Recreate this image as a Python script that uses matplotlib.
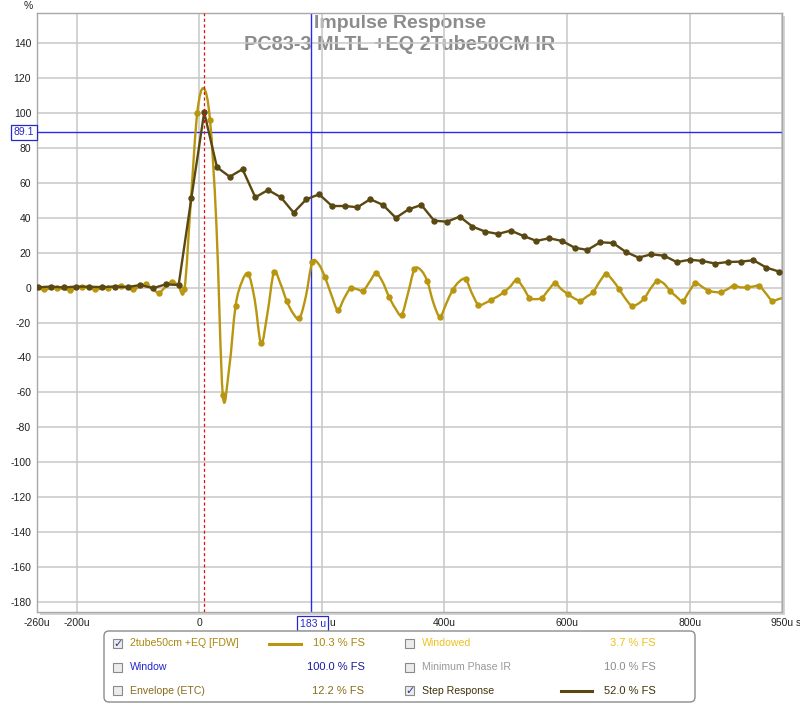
import numpy as np
import matplotlib.pyplot as plt
from matplotlib.patches import Rectangle, FancyBboxPatch, PathPatch
from matplotlib.path import Path
from matplotlib.transforms import blended_transform_factory

plt.rcParams['axes.unicode_minus'] = False

# sample period at 48 kHz, in microseconds
dt_us = 1e6 / 48000.0

# impulse response (gold): value at each sample dot, and curve value half way to the next dot
ir_start_us = -274.0
ir_samples = [0.3, -0.9, 0.0, -1.3, 0.6, -0.9, 0.0, 1.0, -0.9, 1.9, -2.9, 3.4, -0.9,
              100.3, 96.1, -61.5, -10.5, 7.8, -31.9, 8.8, -7.6, -17.6, 14.5, 6.0, -12.8,
              -0.4, -1.7, 8.2, -5.1, -15.6, 10.5, 3.8, -16.6, -1.3, 4.8, -9.9, -7.0,
              -2.6, 4.4, -5.7, -5.7, 2.5, -3.6, -7.4, -2.5, 7.7, -0.6, -10.3, -6.1,
              3.8, -1.7, -7.6, 2.5, -1.7, -2.6, 1.1, 0.2, 1.0, -7.4, -5.5]
ir_mid = [-0.5, -0.6, -0.8, -0.4, -0.2, -0.6, 0.6, 0.1, 0.5, -0.8, 0.3, 1.6, 50.0,
          114.3, 36.0, -46.0, 3.4, -7.0, -14.5, 2.5, -14.7, -5.1, 13.5, -4.2, -6.1,
          -0.9, 3.4, 3.4, -11.8, -3.2, 10.1, -9.0, -9.0, 3.4, -3.2, -9.0, -5.1,
          0.6, 0.2, -6.6, -1.3, -0.9, -6.1, -5.1, 3.4, 4.4, -6.1, -9.3, -0.4,
          2.5, -5.1, -2.3, 0.6, -2.5, -0.9, 0.2, 0.6, -3.2, -6.6]

# step response (dark olive)
step_start_us = -283.5
step_samples = [0.3, 0.2, 0.6, 0.1, 0.6, 0.5, 0.3, 0.6, 0.3, 1.5, -0.3, 1.9, 1.5, 51.6,
                100.5, 69.0, 63.6, 67.9, 51.8, 56.0, 51.8, 43.0, 50.7, 53.5, 46.8, 46.8,
                46.1, 50.7, 47.4, 40.0, 44.9, 47.4, 38.4, 37.8, 40.7, 35.0, 32.1, 30.8,
                32.7, 29.6, 26.8, 28.3, 26.8, 22.9, 21.6, 26.0, 25.6, 20.5, 17.2, 19.1,
                18.3, 14.6, 16.0, 15.3, 13.8, 14.7, 14.9, 15.7, 11.5, 9.2]

# cursors
cursor_x = 183
cursor_y = 89.1
peak_marker_x = 8.2

x_ticks = [-265, -200, 0, 200, 400, 600, 800, 950]
x_labels = ['-260u', '-200u', '0', '', '400u', '600u', '800u', '950u']
y_ticks = list(range(-180, 141, 20))

# legend panel
leg_labels = ['2tube50cm +EQ [FDW]', 'Window', 'Envelope (ETC)',
              'Windowed', 'Minimum Phase IR', 'Step Response']
leg_values = ['10.3 % FS', '100.0 % FS', '12.2 % FS', '3.7 % FS', '10.0 % FS', '52.0 % FS']
leg_checked = [True, False, False, False, False, True]

gold = '#b8960f'
olive = '#5a4812'
cursor_blue = '#2a2aee'
leg_colors = ['#a8880e', '#2424cc', '#8a6a1a', '#f0c020', '#999999', '#3e3208']
leg_value_colors = ['#a8880e', '#1a1a99', '#8a6a1a', '#f0c020', '#8c8c8c', '#3e3208']
leg_lines = [gold, None, None, None, None, olive]

tick_font = dict(family='Liberation Sans', size=7.5, color='#222222')


def smooth_path(xs, ys):
    # Catmull-Rom through the read points, drawn as cubic Bezier segments
    p = np.column_stack([xs, ys])
    ext = np.vstack([p[0], p, p[-1]])
    verts = [p[0]]
    codes = [Path.MOVETO]
    for i in range(len(p) - 1):
        p0, p1, p2, p3 = ext[i], ext[i + 1], ext[i + 2], ext[i + 3]
        verts += [p1 + (p2 - p0) / 6, p2 - (p3 - p1) / 6, p2]
        codes += [Path.CURVE4] * 3
    return Path(verts, codes)


# build series
ir_t = ir_start_us + np.arange(len(ir_samples)) * dt_us
mid_t = ir_t[:-1] + dt_us / 2
line_t = np.empty(len(ir_t) + len(mid_t))
line_v = np.empty_like(line_t)
line_t[0::2] = ir_t
line_t[1::2] = mid_t
line_v[0::2] = ir_samples
line_v[1::2] = ir_mid
step_t = step_start_us + np.arange(len(step_samples)) * dt_us

# set up the figure
fig = plt.figure(figsize=(8, 7.04), dpi=100)
ax = fig.add_axes([36.7 / 800, 1 - 612 / 704, 745 / 800, 598.7 / 704])
ax.set_xlim(-265, 950)
ax.set_ylim(-186, 157.3)
ax.set_axisbelow(True)
ax.grid(True, color='#c8c8c8', lw=1.1)
for s in ax.spines.values():
    s.set_color('#a8a8a8')
    s.set_linewidth(1.0)

ax.set_xticks(x_ticks)
ax.set_xticklabels(x_labels)
ax.set_yticks(y_ticks)
ax.tick_params(length=0, pad=4, labelsize=7.5, labelcolor='#222222')
for lab in ax.get_xticklabels() + ax.get_yticklabels():
    lab.set_family('Liberation Sans')

# shadow along right and bottom edge
fig.patches.append(Rectangle((39.5 / 800, 1 - 615 / 704), 745 / 800, 598.7 / 704,
                             transform=fig.transFigure, fc='#d4d4d4', ec='none', zorder=-1))

# title, under the grid
ax.text(0.5, 1 - 23 / 704, 'Impulse Response', transform=fig.transFigure,
        ha='center', va='center', fontsize=14, fontweight='bold', color='#8c8c8c',
        family='Liberation Sans', zorder=0.4)
ax.text(0.5, 1 - 45 / 704, 'PC83-3 MLTL +EQ 2Tube50CM IR', transform=fig.transFigure,
        ha='center', va='center', fontsize=14.3, fontweight='bold', color='#8c8c8c',
        family='Liberation Sans', zorder=0.4)

# cursors
ax.axvline(cursor_x, color=cursor_blue, lw=1.0, zorder=1)
ax.axhline(cursor_y, color=cursor_blue, lw=1.0, zorder=1)

# curves
ax.add_patch(PathPatch(smooth_path(line_t, line_v), fill=False, ec=gold, lw=1.7,
                       joinstyle='round', capstyle='round', zorder=2))
ax.plot(ir_t, ir_samples, 'o', color=gold, ms=3.6, zorder=2)
ax.plot(step_t, step_samples, '-o', color=olive, lw=1.7, ms=3.6, zorder=3)

ax.axvline(peak_marker_x, color='#dd1111', lw=0.9, ls=(0, (2.5, 2)), zorder=4)

# cursor value boxes
bt = blended_transform_factory(ax.transAxes, ax.transData)
ax.text(-0.0035, cursor_y, '89.1', transform=bt, ha='right', va='center',
        color='#2828c8', clip_on=False, family='Liberation Sans', fontsize=7.5,
        bbox=dict(boxstyle='square,pad=0.25', fc='white', ec='#2828c8', lw=0.9), zorder=5)
bt2 = blended_transform_factory(ax.transData, ax.transAxes)
ax.text(cursor_x + 2, -0.0195, '183 u', transform=bt2, ha='center', va='center',
        color='#2828c8', clip_on=False, family='Liberation Sans', fontsize=7.5,
        bbox=dict(boxstyle='square,pad=0.25', fc='white', ec='#2828c8', lw=0.9), zorder=5)

# overlay in pixel coordinates for units and legend panel
pa = fig.add_axes([0, 0, 1, 1], zorder=10)
pa.set_xlim(0, 800)
pa.set_ylim(704, 0)
pa.axis('off')

pa.text(32.5, 6, '%', ha='right', va='center', **tick_font)
pa.text(795.5, 622.5, 's', ha='left', va='center', **tick_font)
# tail of the 200u label that shows past the cursor box
pa.text(329.5, 622.5, 'u', ha='left', va='center', **tick_font)

pa.add_patch(FancyBboxPatch((104, 631), 591, 71, boxstyle='round,pad=0,rounding_size=5',
                            fc='white', ec='#8c8c8c', lw=1.0))

rows_y = [643.5, 667.2, 690.6]
col_box_x = [112.7, 405]
col_text_x = [130, 421.7]
col_value_x = [364.5, 656]
col_line_x = [(269, 300.7), (560.7, 591.7)]

for i, lab in enumerate(leg_labels):
    c = i // 3
    y = rows_y[i % 3]
    pa.add_patch(Rectangle((col_box_x[c], y - 4.7), 9.4, 9.4, fc='#ececec', ec='#8a8a8a', lw=0.8))
    if leg_checked[i]:
        pa.text(col_box_x[c] + 4.9, y + 0.3, '\u2713', ha='center', va='center',
                fontsize=8, fontweight='bold', color='#283c9c', family='DejaVu Sans')
    pa.text(col_text_x[c], y, lab, ha='left', va='center', fontsize=7.6,
            color=leg_colors[i], family='Liberation Sans')
    pa.text(col_value_x[c], y, leg_values[i], ha='right', va='center', fontsize=8,
            color=leg_value_colors[i], family='Liberation Sans')
    if leg_lines[i]:
        pa.plot(col_line_x[c], [y, y], color=leg_lines[i], lw=2.2)

fig.savefig('out.png', dpi=100)
